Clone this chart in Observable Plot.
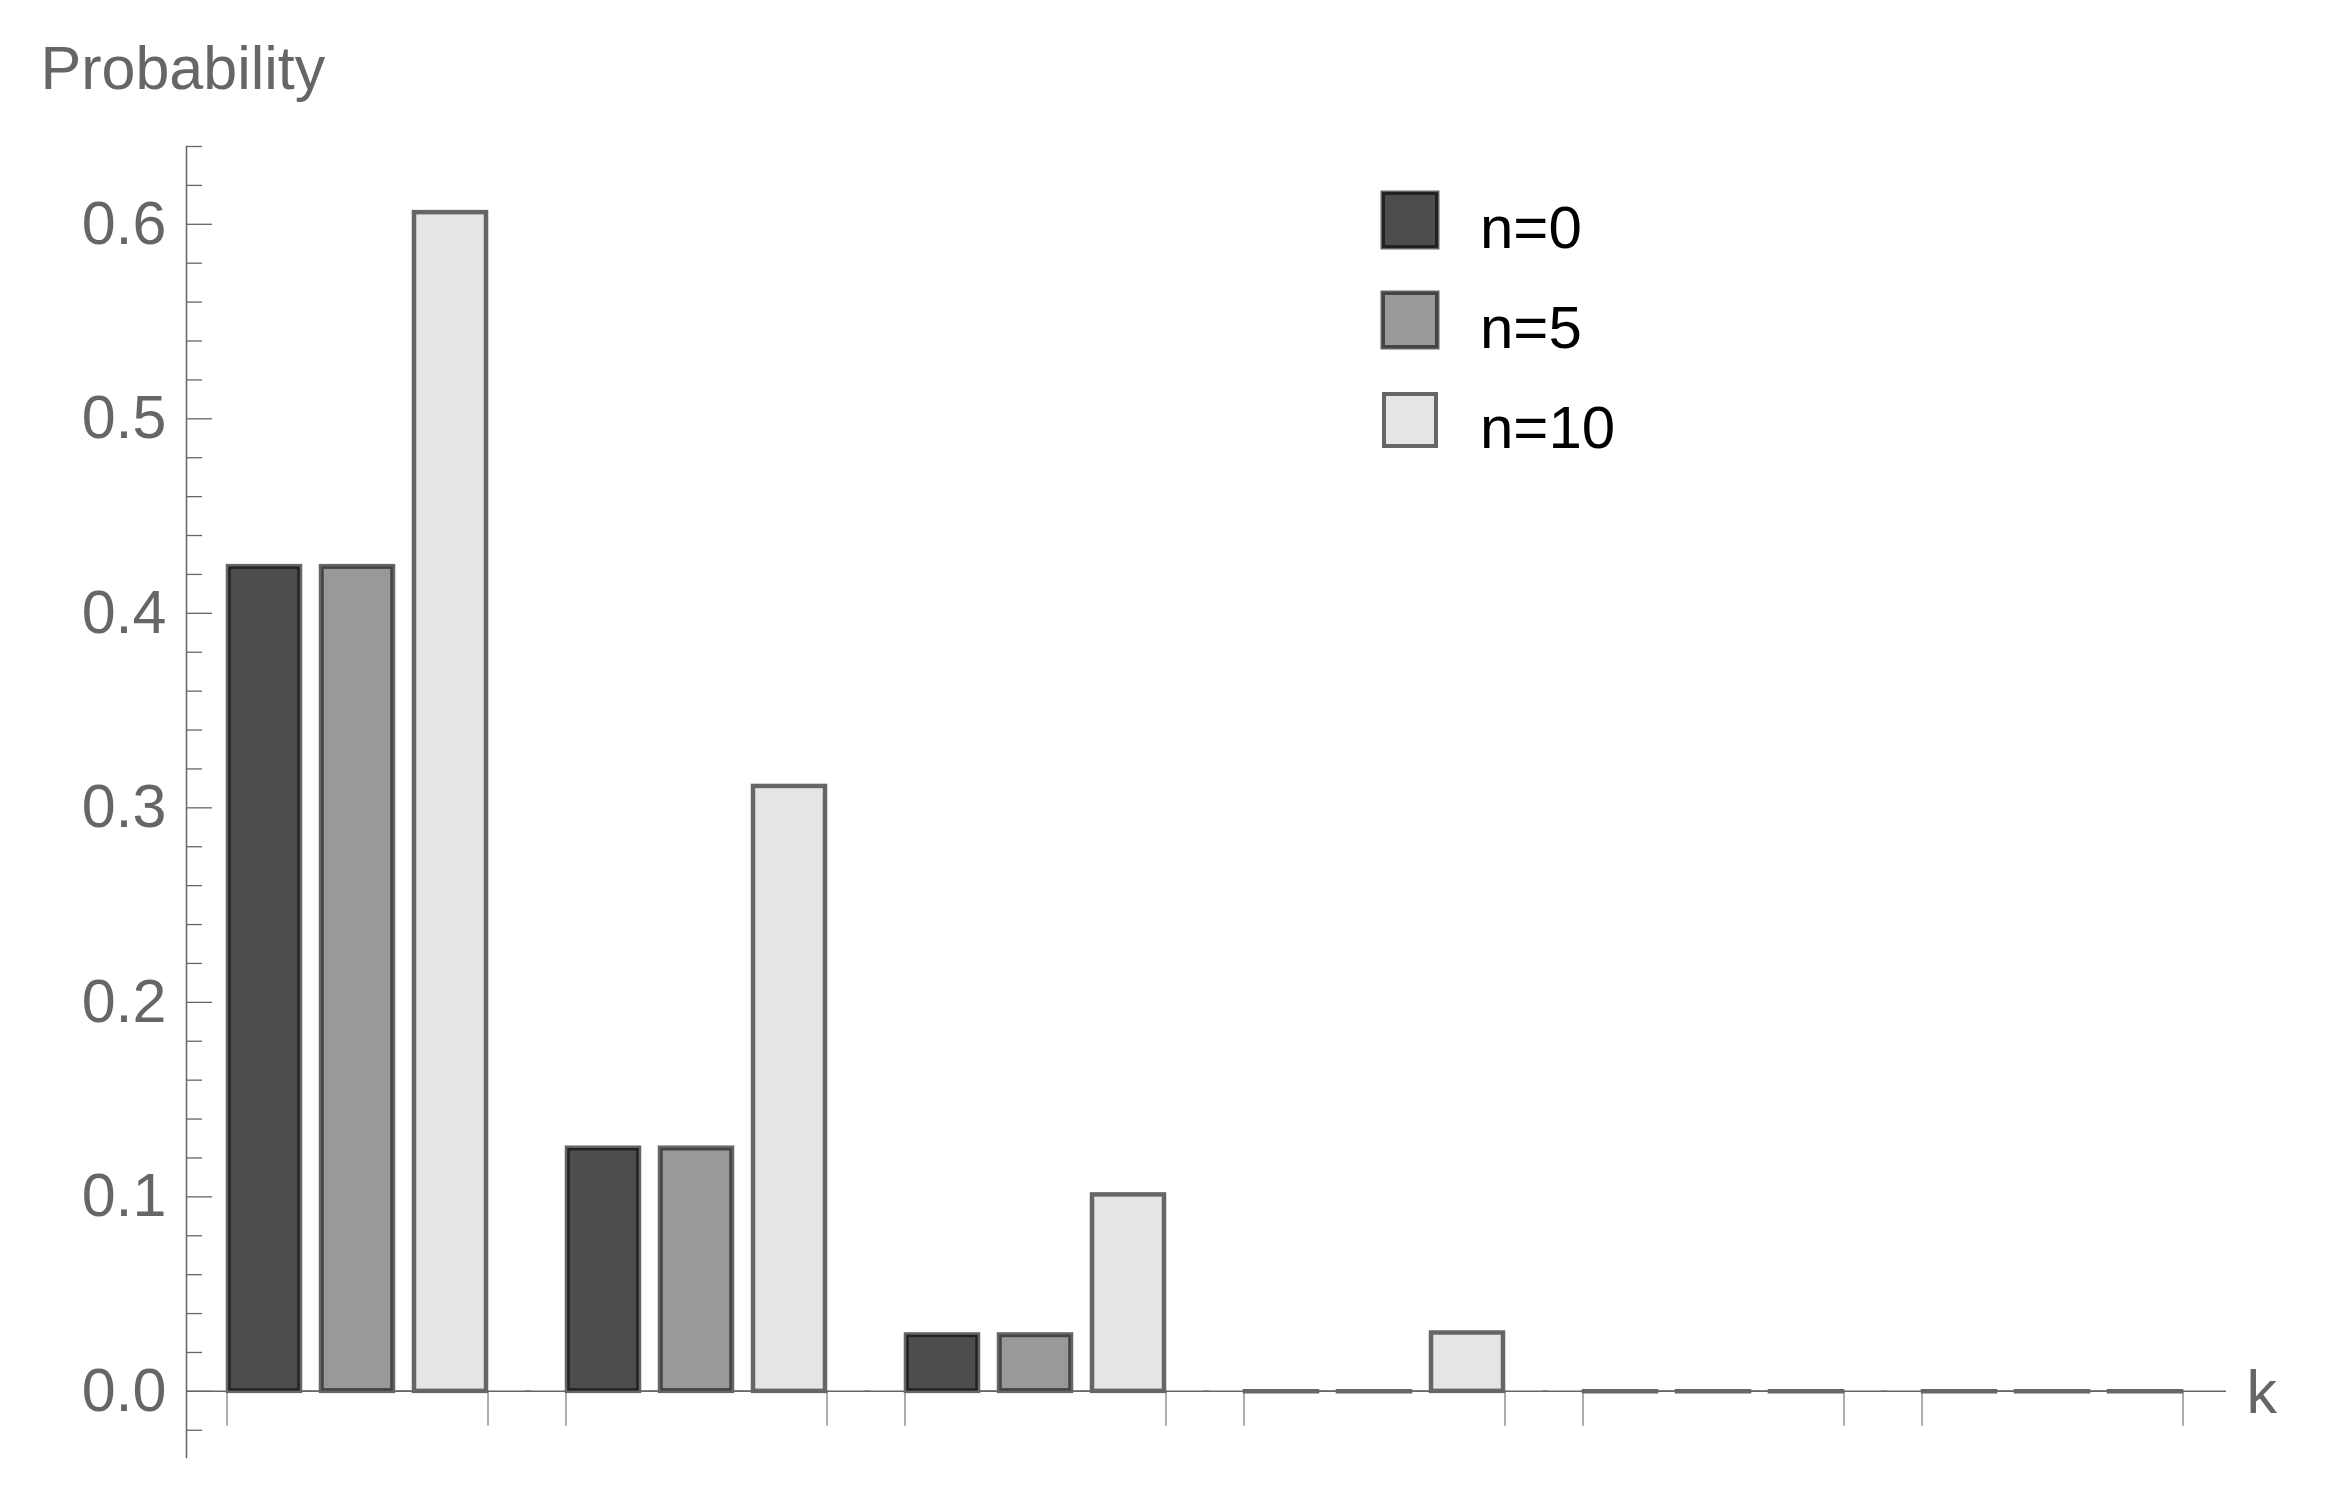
<!DOCTYPE html>
<html><head><meta charset="utf-8">
<script src="https://cdn.jsdelivr.net/npm/d3@7"></script>
<script src="https://cdn.jsdelivr.net/npm/@observablehq/plot@0.6"></script>
<style>
html,body{margin:0;padding:0;background:#fff;}
#wrap{position:relative;width:2331px;height:1490px;font-family:"Liberation Sans",Arial,sans-serif;}
#legend{position:absolute;left:1382px;top:192px;}
.row{display:flex;align-items:flex-start;height:100px;}
.sw{width:56px;height:56px;box-sizing:border-box;}
.lab{font-size:60px;line-height:60px;margin-left:42px;margin-top:6px;color:#000;}
</style></head><body><div id="wrap"><div id="legend"></div></div>
<script>
// ---- data ----
const ks = ["0", "1", "2", "3", "4", "5"];
const seriesNames = ["n=0", "n=5", "n=10"];
const n0 = [0.424, 0.125, 0.029, 0, 0, 0];
const n5 = [0.424, 0.125, 0.029, 0, 0, 0];
const n10 = [0.606, 0.311, 0.101, 0.030, 0, 0];
const yMajor = [0, 0.1, 0.2, 0.3, 0.4, 0.5, 0.6];
const yMinor = d3.range(-1, 33).filter(i => i % 5 !== 0).map(i => +(i * 0.02).toFixed(2));
const yLabel = "Probability";
const xLabel = "k";
// ---- styles ----
const fills = ["#4d4d4d", "#999999", "#e5e5e5"];
const innerStrokes = ["#222222", "#444444", null];
const borders = ["3px solid #222", "3px solid #444", "4px solid #666"];

const values = [n0, n5, n10];
const table = ks.flatMap((k, i) => seriesNames.map((s, j) => ({k, series: s, p: values[j][i]})));

const innerMarks = seriesNames.map((s, j) => innerStrokes[j] ? Plot.barY(table.filter(d => d.series === s), {
  fx: "k", x: "series", y: "p", fill: "series", stroke: innerStrokes[j], strokeWidth: 2.5, inset: 1.5
}) : null).filter(Boolean);

const chart = Plot.plot({
  width: 2331, height: 1490,
  marginLeft: 184, marginRight: 106, marginTop: 146, marginBottom: 33,
  style: {fontFamily: "Liberation Sans, Arial, sans-serif", fontSize: "61px", color: "#666", background: "#fff", overflow: "visible"},
  fx: {domain: ks, paddingInner: 0.2314, paddingOuter: 0.1207, axis: null, label: null},
  x: {domain: seriesNames, paddingInner: 0.223, paddingOuter: 0, axis: null},
  y: {domain: [-0.034, 0.64], axis: null},
  color: {domain: seriesNames, range: fills},
  marks: [
    Plot.rect([0], {y1: 0, y2: -0.0185, stroke: "#777", strokeWidth: 1.2, fill: "none"}),
    Plot.ruleY([-0.0185], {stroke: "white", strokeWidth: 3, insetLeft: -2, insetRight: -2}),
    Plot.ruleY([0], {stroke: "#666", strokeWidth: 1.5, insetLeft: -41, insetRight: -43}),
    Plot.frame({anchor: "left", facet: "super", insetLeft: -41, stroke: "#666", strokeWidth: 1.5}),
    Plot.axisY({ticks: yMinor, dx: -41, tickSize: -16, tickFormat: () => "", label: null, strokeWidth: 1.3}),
    Plot.axisY({ticks: yMajor, dx: -41, tickSize: -26, tickPadding: 46, tickFormat: d3.format(".1f"), label: null, strokeWidth: 1.3}),
    Plot.barY(table, {fx: "k", x: "series", y: "p", fill: "series", stroke: "#666", strokeWidth: 4.5}),
    ...innerMarks,
    Plot.tickY(table.filter(d => d.p === 0), {fx: "k", x: "series", y: "p", stroke: "#666", strokeWidth: 4.5, strokeLinecap: "square"}),
    Plot.text([yLabel], {facet: "super", frameAnchor: "top-left", dx: -187, dy: -77, textAnchor: "start", lineAnchor: "middle", fill: "#666"}),
    Plot.text([{t: xLabel, v: 0}], {facetAnchor: "right", text: "t", y: "v", frameAnchor: "right", textAnchor: "start", dx: 63, dy: 2, lineAnchor: "middle", fill: "#666"})
  ]
});
document.getElementById("wrap").prepend(chart);

const legend = d3.select("#legend");
seriesNames.forEach((s, j) => {
  const row = legend.append("div").attr("class", "row");
  row.append("div").attr("class", "sw")
    .style("background", fills[j])
    .style("border", borders[j])
    .style("box-shadow", j < 2 ? "0 0 0 1.5px #666" : "none");
  row.append("div").attr("class", "lab").text(s);
});
</script>
</body></html>
